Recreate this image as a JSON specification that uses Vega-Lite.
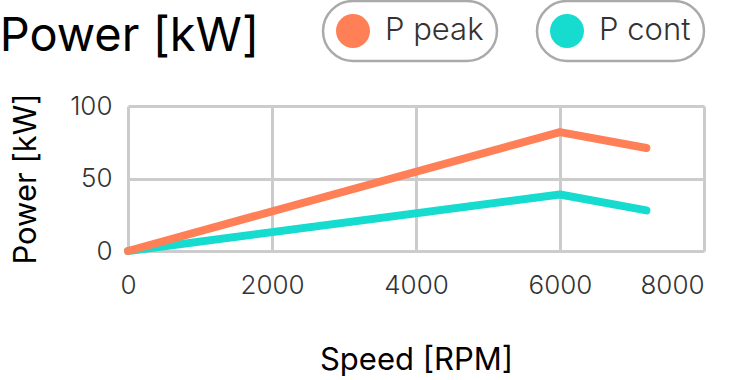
{
  "$schema": "https://vega.github.io/schema/vega-lite/v6.json",
  "autosize": {"type": "none"},
  "width": 576,
  "height": 145,
  "padding": {"left": 128, "top": 106, "right": 34, "bottom": 129},
  "background": "white",
  "title": {
    "text": "Power [kW]",
    "anchor": "start",
    "frame": "bounds",
    "fontSize": 47,
    "font": "Inter",
    "fontWeight": "normal",
    "color": "#000000",
    "dx": -11,
    "offset": -61
  },
  "datasets": {
    "peak": [
      {"speed": 0, "power": 0, "series": "P peak"},
      {"speed": 6000, "power": 82, "series": "P peak"},
      {"speed": 7200, "power": 71, "series": "P peak"}
    ],
    "cont": [
      {"speed": 0, "power": 0, "series": "P cont"},
      {"speed": 6000, "power": 39, "series": "P cont"},
      {"speed": 7200, "power": 28, "series": "P cont"}
    ]
  },
  "encoding": {
    "x": {
      "field": "speed", "type": "quantitative",
      "scale": {"domain": [0, 8000], "nice": false},
      "axis": {
        "values": [0, 2000, 4000, 6000, 8000], "format": "d", "title": "Speed [RPM]",
        "labelFlush": false,
        "labelAlign": {"expr": "datum.value == 8000 ? 'right' : 'center'"}
      }
    },
    "y": {
      "field": "power", "type": "quantitative",
      "scale": {"domain": [0, 100], "nice": false},
      "axis": {"values": [0, 50, 100], "format": "d", "title": "Power [kW]"}
    }
  },
  "layer": [
    {
      "data": {"name": "cont"},
      "mark": {"type": "line", "strokeWidth": 8, "strokeCap": "round", "strokeJoin": "round"},
      "encoding": {
        "color": {
          "field": "series", "type": "nominal",
          "scale": {"domain": ["P cont"], "range": ["#16dccf"]},
          "legend": {"orient": "none", "legendX": 409, "legendY": -105, "title": null, "symbolFillColor": "#16dccf"}
        }
      }
    },
    {
      "data": {"name": "peak"},
      "mark": {"type": "line", "strokeWidth": 8, "strokeCap": "round", "strokeJoin": "round"},
      "encoding": {
        "color": {
          "field": "series", "type": "nominal",
          "scale": {"domain": ["P peak"], "range": ["#ff7f57"]},
          "legend": {"orient": "none", "legendX": 195, "legendY": -105, "title": null, "symbolFillColor": "#ff7f57"}
        }
      }
    }
  ],
  "resolve": {"scale": {"color": "independent"}, "legend": {"color": "independent"}},
  "config": {
    "font": "Inter",
    "view": {"stroke": null},
    "axis": {
      "domain": false,
      "ticks": false,
      "grid": true,
      "gridColor": "#cccccc",
      "gridWidth": 3,
      "labelFont": "Inter",
      "labelFontSize": 26,
      "labelFontWeight": 300,
      "labelColor": "#333333",
      "titleFont": "Inter",
      "titleFontSize": 31,
      "titleFontWeight": "normal",
      "titleColor": "#000000"
    },
    "axisX": {"labelPadding": 21, "titlePadding": 47},
    "axisY": {"labelPadding": 16, "titlePadding": 27},
    "legend": {
      "symbolType": "circle",
      "symbolSize": 1156,
      "symbolStrokeWidth": 0,
      "labelFont": "Inter",
      "labelFontSize": 31,
      "labelFontWeight": 300,
      "labelColor": "#333333",
      "labelOffset": 15,
      "labelLimit": 300,
      "padding": 13,
      "strokeColor": "#aaaaaa",
      "strokeWidth": 2.5,
      "cornerRadius": 30,
      "fillColor": "white"
    }
  }
}
